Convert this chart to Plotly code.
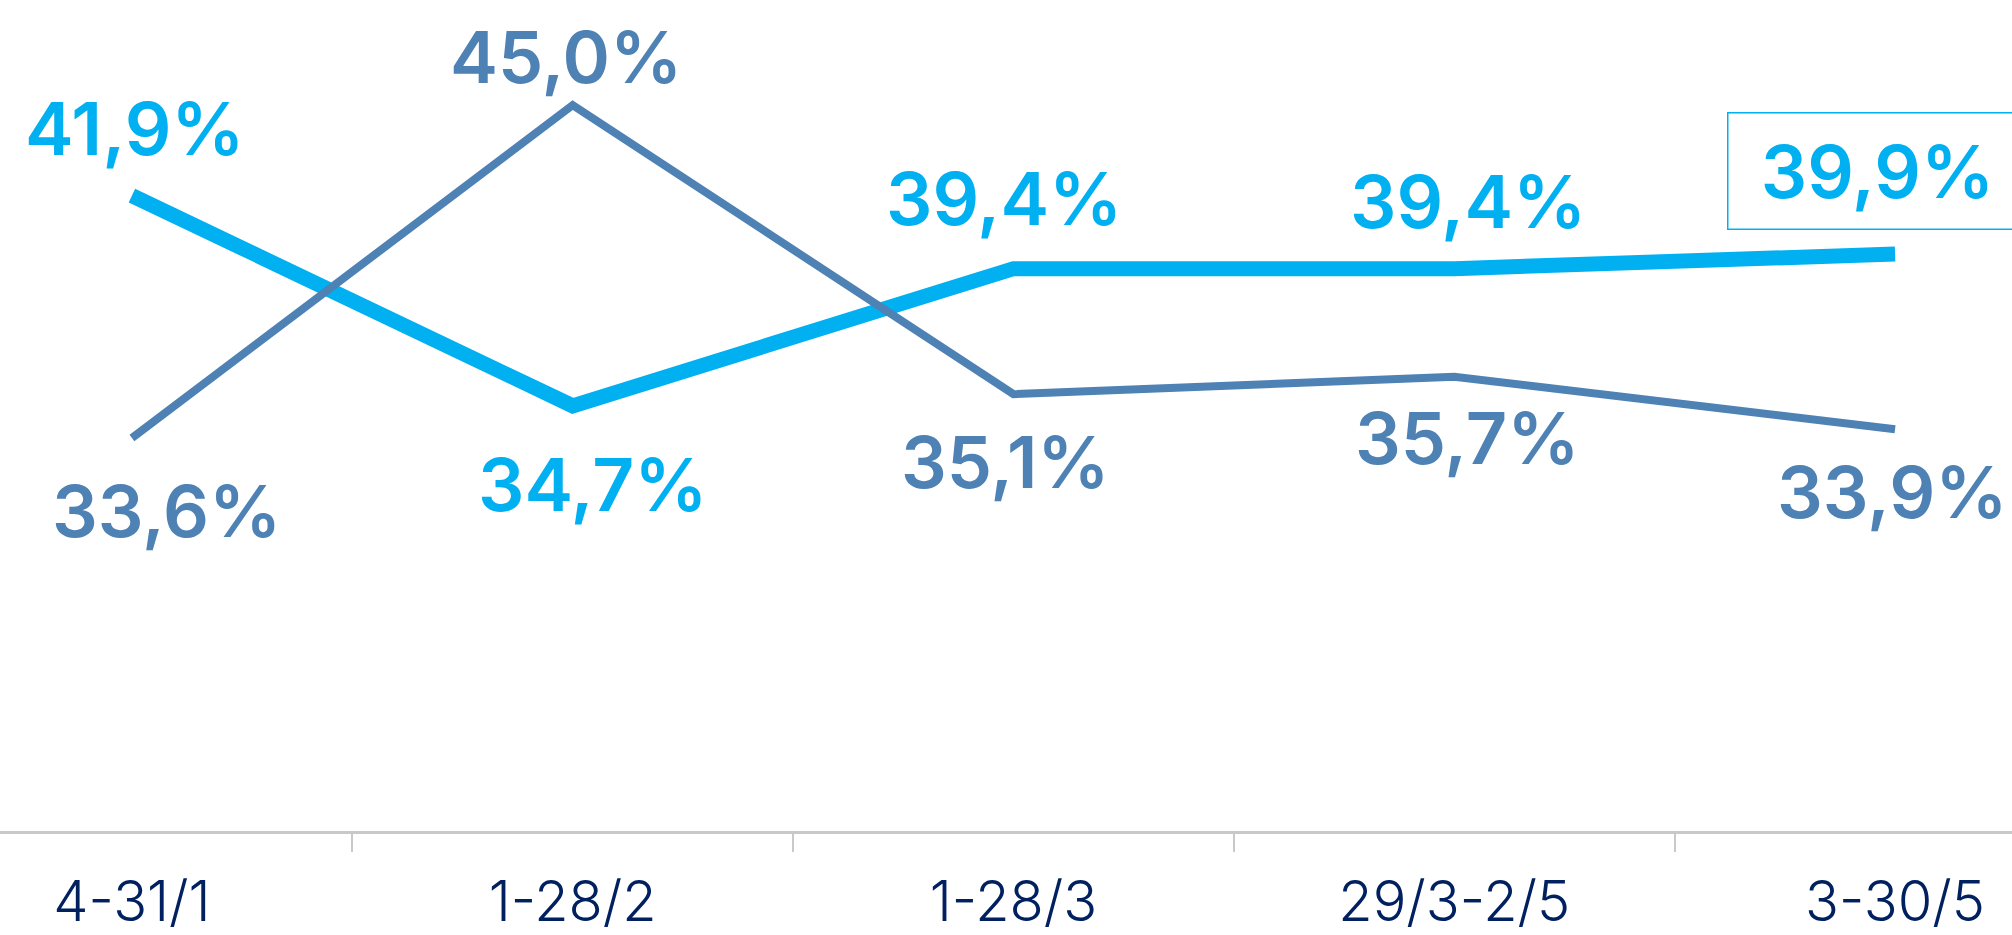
import plotly.graph_objects as go

categories = ["4-31/1", "1-28/2", "1-28/3", "29/3-2/5", "3-30/5"]
series_a = [41.9, 34.7, 39.4, 39.4, 39.9]   # light blue, thick line
series_b = [33.6, 45.0, 35.1, 35.7, 33.9]   # steel blue, thin line

def fmt(v):
    return f"{v:.1f}".replace(".", ",") + "%"

BLUE = "#00B0F0"
STEEL = "#4E81B4"
NAVY = "#002060"
FONT = "Inter"

# label offsets (px) relative to each point: (xshift, yshift)
off_a = [(3, 67), (20, -79), (-9, 70), (14, 67), (-18, 83)]
off_b = [(35, -73), (-7, 49), (-8, -67), (13, -61), (-3, -62)]

fig = go.Figure()
fig.add_trace(go.Scatter(x=categories, y=series_a, mode="lines",
                         line=dict(color=BLUE, width=15), hoverinfo="skip"))
fig.add_trace(go.Scatter(x=categories, y=series_b, mode="lines",
                         line=dict(color=STEEL, width=8), hoverinfo="skip"))

annotations = []
for i, (c, v) in enumerate(zip(categories, series_a)):
    dx, dy = off_a[i]
    ann = dict(x=c, y=v, text=fmt(v), showarrow=False, xshift=dx, yshift=dy,
               font=dict(family=FONT, size=73, color=BLUE, weight=600),
               xanchor="center", yanchor="middle")
    if i == len(series_a) - 1:
        ann.update(bordercolor=BLUE, borderwidth=1.5, borderpad=1,
                   width=296, height=113)
    annotations.append(ann)
for i, (c, v) in enumerate(zip(categories, series_b)):
    dx, dy = off_b[i]
    annotations.append(dict(x=c, y=v, text=fmt(v), showarrow=False, xshift=dx, yshift=dy,
                            font=dict(family=FONT, size=72, color=STEEL, weight=600),
                            xanchor="center", yanchor="middle"))

fig.update_layout(
    width=2012, height=935,
    margin=dict(l=0, r=0, t=0, b=104, pad=0),
    paper_bgcolor="white", plot_bgcolor="white",
    showlegend=False,
    annotations=annotations,
    xaxis=dict(type="category", range=[-0.2993, 4.2653],
               tickson="boundaries", ticks="outside", ticklen=18,
               tickcolor="#c9c9c9", tickwidth=1.5,
               showline=True, linecolor="#c8c8c8", linewidth=2.5,
               showgrid=False, zeroline=False, ticklabelstandoff=20,
               tickfont=dict(family=FONT, size=56, color=NAVY, weight=300)),
    yaxis=dict(range=[20.14, 48.6], visible=False, showgrid=False, zeroline=False),
)

fig.write_html("out.html", config={"displayModeBar": False},
               post_script="document.body.style.margin='0';document.body.style.overflow='hidden';")
